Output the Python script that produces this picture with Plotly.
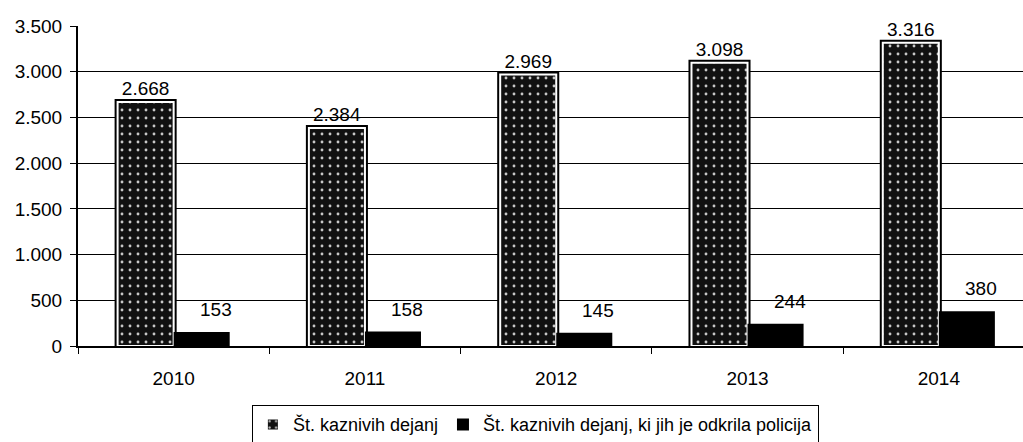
import plotly.graph_objects as go

years = ["2010", "2011", "2012", "2013", "2014"]
total_crimes = [2668, 2384, 2969, 3098, 3316]
police_found = [153, 158, 145, 244, 380]
series_names = ["Št. kaznivih dejanj", "Št. kaznivih dejanj, ki jih je odkrila policija"]
y_ticks = [0, 500, 1000, 1500, 2000, 2500, 3000, 3500]


def fmt(v):
    return f"{v:,}".replace(",", ".")


FONT = "Arial, Liberation Sans, sans-serif"
FS = 19
BW = 0.293

fig = go.Figure()

# black outer frame of the speckled bars
fig.add_trace(go.Bar(
    x=years, y=total_crimes, width=BW, offset=-BW,
    marker=dict(color="black", line=dict(color="black", width=6)),
    showlegend=False, hoverinfo="skip",
))
# speckled bars with white inner border
fig.add_trace(go.Bar(
    x=years, y=total_crimes, width=BW, offset=-BW, name=series_names[0],
    marker=dict(
        color="#111111",
        line=dict(color="white", width=2),
        pattern=dict(shape=".", fgcolor="#c8c8c8", bgcolor="#111111",
                     size=8, solidity=0.1, fillmode="replace"),
    ),
    text=[fmt(v) for v in total_crimes], textposition="outside",
    textfont=dict(family=FONT, size=FS, color="black"),
    cliponaxis=False,
))
fig.add_trace(go.Bar(
    x=years, y=police_found, width=BW, offset=0, name=series_names[1],
    marker=dict(color="black", line=dict(width=0)),
))

for i, v in enumerate(police_found):
    fig.add_annotation(
        x=i, y=v, xref="x", yref="y", text=fmt(v), showarrow=False,
        xshift=42, yshift=10, yanchor="bottom",
        font=dict(family=FONT, size=FS, color="black"),
    )

fig.update_layout(
    width=1023, height=442,
    margin=dict(l=78, r=0, t=26, b=96, autoexpand=False),
    paper_bgcolor="white", plot_bgcolor="white",
    barmode="overlay",
    separators=",.",
    font=dict(family=FONT, size=FS, color="black"),
    showlegend=True,
    legend=dict(
        orientation="h", x=0.484, xanchor="center", y=-0.185, yanchor="top",
        bordercolor="black", borderwidth=1, bgcolor="white",
        font=dict(family=FONT, size=18, color="black"),
        itemwidth=30, tracegroupgap=0,
    ),
)
fig.update_xaxes(
    type="category", range=[-0.5, 4.44],
    showline=True, linecolor="black", linewidth=2,
    ticks="outside", tickson="boundaries", ticklen=6, tickcolor="black",
    ticklabelstandoff=14,
    tickfont=dict(family=FONT, size=FS, color="black"),
    showgrid=False, automargin=False,
)
fig.update_yaxes(
    range=[0, 3500], tickvals=y_ticks, tickformat=",d",
    showline=True, linecolor="black", linewidth=2,
    ticks="outside", ticklen=6, tickcolor="black",
    ticklabelstandoff=4,
    showgrid=True, gridcolor="black", gridwidth=1,
    tickfont=dict(family=FONT, size=FS, color="black"),
    zeroline=False, automargin=False,
)

fig.write_html(
    "out.html",
    config={"displayModeBar": False},
    post_script="document.body.style.margin='0';document.body.style.overflow='hidden';",
)
